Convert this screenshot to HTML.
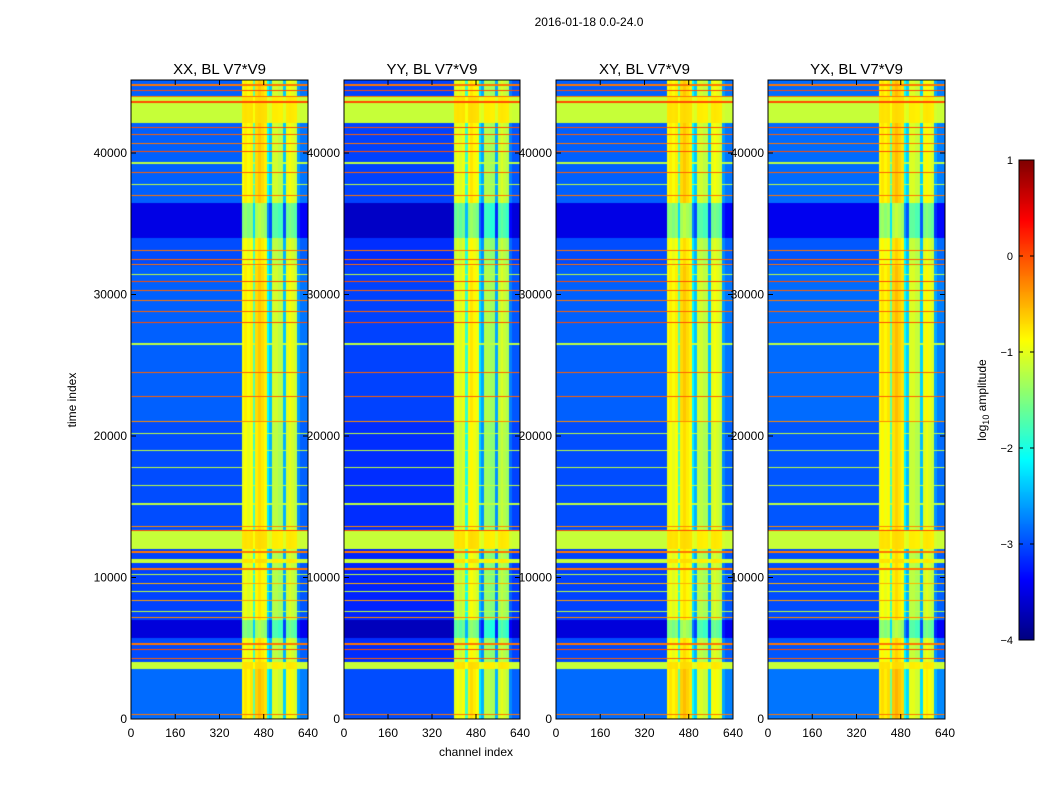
<!DOCTYPE html>
<html><head><meta charset="utf-8"><style>
body{margin:0;background:#fff;width:1050px;height:800px;overflow:hidden;font-family:"Liberation Sans",sans-serif}
#wrap{position:relative;width:1050px;height:800px}
canvas{position:absolute}
svg{position:absolute;left:0;top:0}
</style></head><body><div id="wrap">
<canvas id="c0" style="left:131px;top:80px" width="177" height="639"></canvas>
<canvas id="c1" style="left:344px;top:80px" width="176" height="639"></canvas>
<canvas id="c2" style="left:556px;top:80px" width="177" height="639"></canvas>
<canvas id="c3" style="left:768px;top:80px" width="177" height="639"></canvas>
<canvas id="cb" style="left:1019px;top:160px" width="15" height="480"></canvas>
<svg id="ov" width="1050" height="800" font-family="Liberation Sans, sans-serif"></svg>
</div>
<script>
const panelTitles=["XX, BL V7*V9","YY, BL V7*V9","XY, BL V7*V9","YX, BL V7*V9"];
const panelOffsets=[0,-0.15,0,0.05];
const xTicks=[0,160,320,480,640];
const yTicks=[0,10000,20000,30000,40000];
const cbTicks=[1,0,-1,-2,-3,-4];
const colBoost=[0,0,0,0,0,0,0,0,0,0,0,0,0,0,0,0,0,0,0,0,0,0,0,0,0,0,0,0,0,0,0,0,0,0,0,0,0,0,0,0,
 2.0,2.1,2.0,2.1,1.2,2.2,2.3,2.2,2.1,0.8,0.5,1.8,1.8,1.7,1.7,0.5,1.9,2.0,1.9,1.8,0.3,0.1,0.1,0.1];
const bandStart=[0,3500,4000,5700,7000,11000,11300,12000,13400,21000,28000,32000,34000,36500,42100,43950];
const bandEnd=  [3500,4000,5700,7000,11000,11300,12000,13300,21000,28000,32000,34000,36500,42100,43950,45200];
const bandLevel=[-2.85,-1.15,-3.0,-3.55,-3.05,-1.15,-3.05,-1.15,-3.0,-2.9,-2.9,-3.0,-3.5,-2.9,-1.15,-2.9];
const bandFlat= [0,1,0,0,0,1,0,1,0,0,0,0,0,0,1,0];
const lineTime=[300,4300,4900,5300,7200,7600,8400,9000,9600,10200,10600,11800,13300,13600,15200,16500,17800,19000,20200,21000,22800,24500,26500,28000,28800,29600,30300,30900,31400,32100,32500,33100,37000,37800,38600,39300,40100,40700,41300,41800,43600,44000,44400,44800];
const lineLevel=[-0.2,-0.1,0,-0.2,-0.3,-1.2,-0.4,-1.2,-0.5,-1.2,-0.2,-0.2,0,-0.3,-1.2,-1.2,-1.2,-1.2,-1.2,-0.3,-0.1,-0.1,-1.2,0,-0.1,-0.2,-0.1,0,-1.2,-0.2,-0.1,-0.2,-0.2,-1.2,-0.1,-1.2,0,-0.2,-0.1,0,0,-0.2,0,-0.2];
const T0=0,T1=45160,CH=640;
function jet(v){let t=(v+4)/5;t=Math.max(0,Math.min(1,t));
 const f=x=>Math.max(0,Math.min(1,x));
 const r=f(Math.min(4*t-1.5,-4*t+4.5)),g=f(Math.min(4*t-0.5,-4*t+3.5)),b=f(Math.min(4*t+0.5,-4*t+2.5));
 return [r*255|0,g*255|0,b*255|0];}
function rowVal(t){for(let i=0;i<bandStart.length;i++)if(t>=bandStart[i]&&t<bandEnd[i])return[bandLevel[i],bandFlat[i]];return[-2.9,0];}
function lineAt(t,dt){for(let i=0;i<lineTime.length;i++)if(Math.abs(lineTime[i]-t)<=dt)return lineLevel[i];return null;}
for(let p=0;p<4;p++){
 const cv=document.getElementById('c'+p),ctx=cv.getContext('2d');const W=cv.width,H=cv.height;
 const img=ctx.createImageData(W,H);
 for(let y=0;y<H;y++){const t=T1-(y+0.5)/H*(T1-T0);const dt=(T1-T0)/H*0.6;
  const rv=rowVal(t);const b=rv[0],flat=rv[1];const ln=lineAt(t,dt);
  for(let x=0;x<W;x++){const bin=Math.min(63,Math.floor((x+0.5)/W*CH/10));
   let v=flat?b+colBoost[bin]*0.2:b+colBoost[bin]+panelOffsets[p];
   if(ln!==null)v=Math.max(v,ln);
   const c=jet(v);const k=(y*W+x)*4;img.data[k]=c[0];img.data[k+1]=c[1];img.data[k+2]=c[2];img.data[k+3]=255;}}
 ctx.putImageData(img,0,0);}
{const cv=document.getElementById('cb'),ctx=cv.getContext('2d');
 for(let y=0;y<480;y++){const c=jet(1-(y+0.5)/480*5);ctx.fillStyle='rgb('+c[0]+','+c[1]+','+c[2]+')';ctx.fillRect(0,y,15,1);}}
const NS='http://www.w3.org/2000/svg';const svg=document.getElementById('ov');
function el(tag,a,txt){const e=document.createElementNS(NS,tag);for(const k in a)e.setAttribute(k,a[k]);if(txt!==undefined)e.textContent=txt;svg.appendChild(e);return e;}
const px=[131,344,556,768],pw=[177,176,177,177],topY=80,botY=719;
const ys=v=>botY-(v-T0)/(T1-T0)*(botY-topY);
for(let p=0;p<4;p++){const x0=px[p],w=pw[p],xs=v=>x0+v/CH*w;
 const fr=el('rect',{x:x0,y:topY,width:w,height:botY-topY,fill:'none',stroke:'#000','stroke-width':1});
 
 const ti=el('text',{x:x0+w/2,y:74,'text-anchor':'middle','font-size':15},panelTitles[p]);
 
 xTicks.forEach(v=>{el('line',{x1:xs(v),x2:xs(v),y1:botY,y2:botY-5,stroke:'#000'});el('line',{x1:xs(v),x2:xs(v),y1:topY,y2:topY+5,stroke:'#000'});
  const t=el('text',{x:xs(v),y:737,'text-anchor':'middle','font-size':12},String(v));
  });
 yTicks.forEach(v=>{el('line',{x1:x0,x2:x0+5,y1:ys(v),y2:ys(v),stroke:'#000'});el('line',{x1:x0+w,x2:x0+w-5,y1:ys(v),y2:ys(v),stroke:'#000'});
  const t=el('text',{x:x0-4,y:ys(v)+4,'text-anchor':'end','font-size':12},String(v));
  });}
let e;
e=el('text',{x:589,y:26,'text-anchor':'middle','font-size':12},'2016-01-18 0.0-24.0');
e=el('text',{x:476,y:756,'text-anchor':'middle','font-size':12},'channel index');
e=el('text',{x:76,y:400,'text-anchor':'middle','font-size':12,transform:'rotate(-90 76 400)'},'time index');
el('rect',{x:1019,y:160,width:15,height:480,fill:'none',stroke:'#000'});
cbTicks.forEach(v=>{const y=160+(1-v)/5*480;el('line',{x1:1019,x2:1023,y1:y,y2:y,stroke:'#000'});el('line',{x1:1034,x2:1030,y1:y,y2:y,stroke:'#000'});
 const t=el('text',{x:1013,y:y+4,'text-anchor':'end','font-size':11},v<0?'\u2212'+(-v):String(v));
 });
e=el('text',{x:986,y:400,'text-anchor':'middle','font-size':12,transform:'rotate(-90 986 400)'});
e.innerHTML='log<tspan font-size="9" dy="3">10</tspan><tspan dy="-3"> amplitude</tspan>';

</script></body></html>
